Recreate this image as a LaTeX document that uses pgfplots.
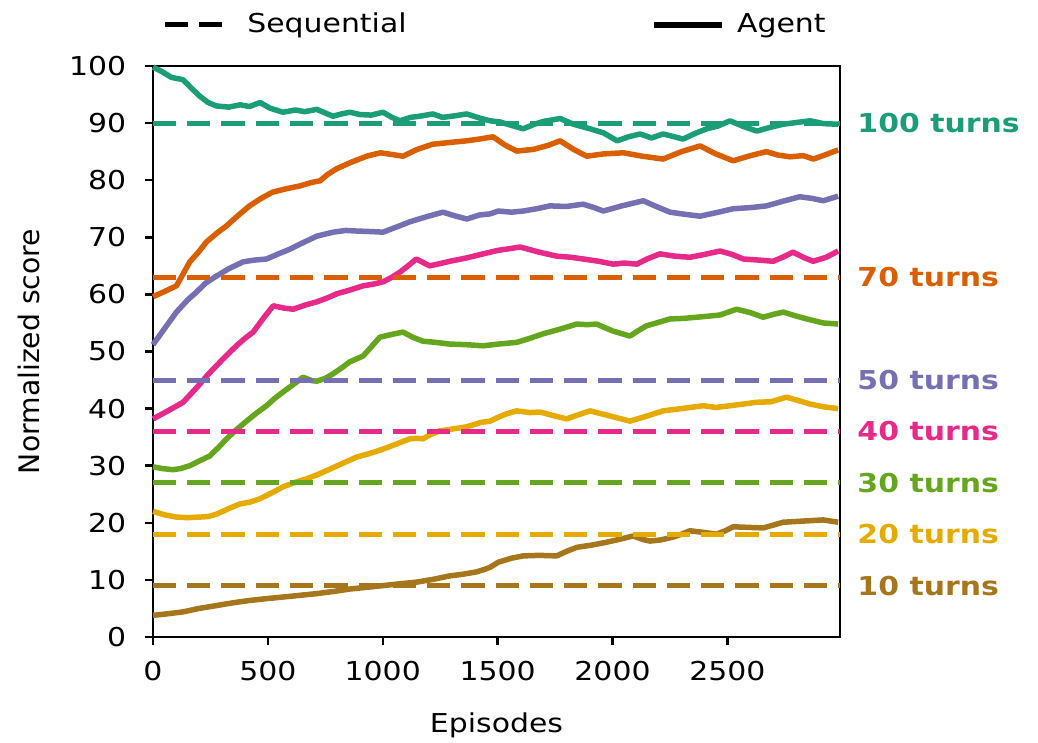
\documentclass[border=0pt]{standalone}
\usepackage{fontspec}
\setmainfont[FakeStretch=1.15]{DejaVu Sans}
\newfontfamily\plainfont{DejaVu Sans}
\usepackage{pgfplots}
\pgfplotsset{compat=1.18}
\usetikzlibrary{calc}
\newcommand\fs{\fontsize{10.4pt}{12pt}\selectfont}
\definecolor{cA}{HTML}{1B9E77}
\definecolor{cB}{HTML}{D95F02}
\definecolor{cC}{HTML}{7570B3}
\definecolor{cD}{HTML}{E7298A}
\definecolor{cE}{HTML}{66A61E}
\definecolor{cF}{HTML}{E6AB02}
\definecolor{cG}{HTML}{A6761D}
\begin{document}
\begin{tikzpicture}
\begin{axis}[name=ax, scale only axis, width=274.8pt, height=228.4pt,
  xmin=0, xmax=2990, ymin=0, ymax=100,
  xtick={0,500,1000,1500,2000,2500}, ytick={0,10,...,100},
  tick pos=left, tick align=outside, major tick length=3.2pt,
  axis line style={line width=1pt},
  every tick/.style={line width=1pt, black},
  /pgf/number format/assume math mode=true, /pgf/number format/1000 sep={},
  tick label style={font=\fs},
  xticklabel style={yshift=-3pt},
  yticklabel style={xshift=-4pt},
  xlabel={Episodes}, ylabel={\plainfont\fontsize{11.3pt}{13pt}\selectfont Normalized score},
  xlabel style={font=\fs, at={(axis description cs:0.5,-0.154)}, anchor=center},
  ylabel style={at={(axis description cs:-0.18,0.5)}, anchor=center, rotate=0},
  clip=false,
  legend image code/.code={\draw[#1] (0pt,0pt) -- (27pt,0pt);},
  legend style={at={(0.5,1)}, anchor=center, yshift=16.4pt, draw=none, fill=none,
    legend columns=2, font=\fs,
    /tikz/every even column/.append style={column sep=96pt},
    /tikz/every odd column/.append style={column sep=3pt}},
  agent/.style={line width=2.2pt, line join=round},
  seq/.style={line width=2pt, dash pattern=on 9.3pt off 4.4pt},
]
\addlegendimage{black, line width=2pt, dash pattern=on 9.3pt off 4.4pt}
\addlegendentry{Sequential}
\addlegendimage{black, line width=2.2pt}
\addlegendentry{Agent}

% Agent curves
\addplot[agent, cA, forget plot] coordinates {(0,99.8)(40,99.0)(80,98.0)(130,97.6)(170,96.0)(204,94.7)(240,93.6)(276,93.0)(330,92.8)(380,93.2)(420,92.9)(466,93.6)(510,92.6)(566,91.9)(620,92.3)(660,92.0)(713,92.4)(783,91.2)(820,91.6)(857,91.9)(900,91.5)(950,91.4)(1001,91.9)(1040,91.0)(1075,90.4)(1120,91.0)(1160,91.2)(1218,91.6)(1260,91.0)(1300,91.2)(1366,91.6)(1420,90.9)(1467,90.4)(1510,90.2)(1560,89.6)(1611,89.0)(1660,89.8)(1700,90.3)(1772,90.8)(1830,89.8)(1902,89.0)(1960,88.3)(2020,86.9)(2070,87.6)(2120,88.1)(2170,87.4)(2220,88.1)(2260,87.7)(2307,87.2)(2360,88.2)(2410,89.0)(2460,89.5)(2511,90.4)(2570,89.4)(2628,88.6)(2690,89.3)(2743,89.8)(2800,90.1)(2860,90.4)(2920,89.9)(2982,89.8)};
\addplot[agent, cB, forget plot] coordinates {(0,59.6)(50,60.5)(102,61.5)(130,63.5)(160,65.7)(200,67.5)(233,69.2)(280,70.8)(320,72.0)(370,73.8)(420,75.5)(470,76.8)(520,77.9)(580,78.5)(640,79.0)(690,79.6)(727,79.9)(760,81.0)(799,82.0)(860,83.1)(930,84.2)(990,84.8)(1040,84.5)(1088,84.2)(1150,85.4)(1218,86.3)(1290,86.6)(1366,86.9)(1420,87.2)(1480,87.6)(1530,86.2)(1583,85.1)(1656,85.4)(1720,86.1)(1772,86.9)(1830,85.4)(1888,84.2)(1960,84.6)(2047,84.8)(2130,84.2)(2220,83.7)(2300,85.0)(2381,86.0)(2450,84.6)(2525,83.4)(2600,84.3)(2670,85.0)(2720,84.4)(2772,84.1)(2830,84.3)(2874,83.7)(2930,84.5)(2982,85.3)};
\addplot[agent, cC, forget plot] coordinates {(0,51.2)(50,54.0)(102,56.9)(150,59.0)(189,60.4)(230,62.0)(276,63.2)(330,64.5)(392,65.7)(440,66.0)(494,66.2)(540,67.0)(595,67.9)(650,69.0)(713,70.2)(784,70.9)(840,71.2)(885,71.1)(950,71.0)(1001,70.9)(1060,71.8)(1117,72.7)(1190,73.6)(1262,74.4)(1310,73.8)(1366,73.2)(1420,73.9)(1467,74.1)(1503,74.6)(1560,74.4)(1611,74.6)(1670,75.0)(1727,75.5)(1800,75.4)(1872,75.8)(1920,75.2)(1960,74.6)(2040,75.5)(2134,76.4)(2190,75.4)(2250,74.4)(2320,74.0)(2381,73.7)(2450,74.3)(2525,75.0)(2600,75.2)(2670,75.5)(2740,76.3)(2815,77.1)(2870,76.8)(2917,76.4)(2982,77.2)};
\addplot[agent, cD, forget plot] coordinates {(0,38.2)(60,39.5)(131,41.1)(170,42.8)(204,44.3)(240,46.0)(276,47.5)(320,49.3)(363,51.0)(400,52.3)(436,53.4)(480,55.8)(523,58.0)(570,57.6)(610,57.4)(660,58.1)(713,58.7)(760,59.4)(799,60.1)(860,60.8)(914,61.5)(960,61.8)(1001,62.2)(1040,63.0)(1075,63.9)(1110,65.0)(1146,66.2)(1175,65.6)(1204,65.0)(1250,65.4)(1291,65.8)(1366,66.4)(1437,67.1)(1500,67.7)(1550,68.0)(1598,68.3)(1680,67.4)(1757,66.7)(1820,66.5)(1872,66.2)(1940,65.8)(2003,65.3)(2050,65.5)(2105,65.3)(2150,66.2)(2206,67.1)(2270,66.7)(2337,66.5)(2400,67.0)(2468,67.6)(2520,67.0)(2569,66.2)(2640,66.0)(2699,65.8)(2740,66.5)(2786,67.4)(2830,66.5)(2873,65.8)(2930,66.5)(2982,67.6)};
\addplot[agent, cE, forget plot] coordinates {(0,29.8)(40,29.5)(87,29.3)(120,29.5)(160,30.0)(200,30.8)(247,31.7)(285,33.2)(320,34.7)(360,36.2)(407,37.8)(450,39.2)(494,40.5)(530,41.8)(566,42.9)(610,44.2)(653,45.5)(690,44.9)(713,44.8)(750,45.3)(784,46.1)(820,47.1)(857,48.2)(914,49.2)(950,50.8)(987,52.5)(1040,53.0)(1088,53.4)(1130,52.5)(1175,51.8)(1230,51.6)(1291,51.3)(1360,51.2)(1437,51.0)(1503,51.3)(1583,51.6)(1640,52.3)(1698,53.1)(1770,53.9)(1844,54.8)(1890,54.7)(1931,54.8)(2000,53.6)(2076,52.7)(2110,53.6)(2148,54.5)(2200,55.1)(2250,55.7)(2310,55.8)(2366,56.0)(2420,56.2)(2468,56.4)(2540,57.4)(2600,56.8)(2656,56.0)(2700,56.5)(2743,56.9)(2800,56.2)(2845,55.7)(2917,55.0)(2982,54.8)};
\addplot[agent, cF, forget plot] coordinates {(0,22.0)(50,21.4)(102,21.0)(150,20.9)(204,21.0)(240,21.1)(276,21.5)(330,22.5)(378,23.3)(420,23.6)(465,24.2)(520,25.3)(566,26.3)(620,27.1)(668,27.7)(720,28.5)(770,29.4)(830,30.5)(886,31.5)(940,32.1)(1001,32.9)(1060,33.8)(1117,34.7)(1150,34.8)(1175,34.7)(1210,35.5)(1248,36.1)(1300,36.4)(1364,36.8)(1430,37.6)(1467,37.8)(1503,38.5)(1540,39.1)(1583,39.6)(1640,39.3)(1685,39.4)(1740,38.8)(1800,38.2)(1850,38.9)(1902,39.6)(1990,38.7)(2076,37.8)(2150,38.7)(2220,39.6)(2300,40.0)(2395,40.5)(2450,40.2)(2511,40.5)(2570,40.8)(2627,41.1)(2690,41.2)(2757,42.0)(2810,41.4)(2860,40.8)(2920,40.3)(2982,40.0)};
\addplot[agent, cG, forget plot] coordinates {(0,3.8)(50,4.0)(131,4.4)(200,5.0)(276,5.5)(350,6.0)(421,6.4)(490,6.7)(566,7.0)(640,7.3)(713,7.6)(790,8.0)(857,8.4)(930,8.7)(1001,9.0)(1070,9.3)(1146,9.6)(1220,10.1)(1291,10.7)(1350,11.0)(1408,11.4)(1440,11.8)(1467,12.2)(1503,13.1)(1560,13.8)(1611,14.2)(1680,14.3)(1757,14.2)(1800,15.0)(1844,15.7)(1910,16.1)(1974,16.6)(2030,17.1)(2090,17.7)(2130,17.1)(2163,16.8)(2210,17.0)(2264,17.5)(2300,18.0)(2337,18.6)(2400,18.3)(2453,18.0)(2490,18.6)(2525,19.3)(2590,19.2)(2656,19.1)(2700,19.6)(2743,20.1)(2830,20.3)(2917,20.5)(2982,20.1)};

% Sequential baselines
\addplot[seq, cA, forget plot] coordinates {(0,90)(2990,90)};
\addplot[seq, cB, forget plot] coordinates {(0,63)(2990,63)};
\addplot[seq, cC, forget plot] coordinates {(0,45)(2990,45)};
\addplot[seq, cD, forget plot] coordinates {(0,36)(2990,36)};
\addplot[seq, cE, forget plot] coordinates {(0,27)(2990,27)};
\addplot[seq, cF, forget plot] coordinates {(0,18)(2990,18)};
\addplot[seq, cG, forget plot] coordinates {(0,9)(2990,9)};

\node[anchor=west, inner sep=0pt, xshift=6.8pt, text=cA, font=\fs\bfseries] at (axis cs:2990,90) {100 turns};
\node[anchor=west, inner sep=0pt, xshift=6.8pt, text=cB, font=\fs\bfseries] at (axis cs:2990,63) {70 turns};
\node[anchor=west, inner sep=0pt, xshift=6.8pt, text=cC, font=\fs\bfseries] at (axis cs:2990,45) {50 turns};
\node[anchor=west, inner sep=0pt, xshift=6.8pt, text=cD, font=\fs\bfseries] at (axis cs:2990,36) {40 turns};
\node[anchor=west, inner sep=0pt, xshift=6.8pt, text=cE, font=\fs\bfseries] at (axis cs:2990,27) {30 turns};
\node[anchor=west, inner sep=0pt, xshift=6.8pt, text=cF, font=\fs\bfseries] at (axis cs:2990,18) {20 turns};
\node[anchor=west, inner sep=0pt, xshift=6.8pt, text=cG, font=\fs\bfseries] at (axis cs:2990,9) {10 turns};
\end{axis}
\pgfresetboundingbox
\path ($(ax.south west)+(-61.2pt,-42.4pt)$) rectangle ($(ax.south west)+(354pt,254.8pt)$);
\end{tikzpicture}
\end{document}
